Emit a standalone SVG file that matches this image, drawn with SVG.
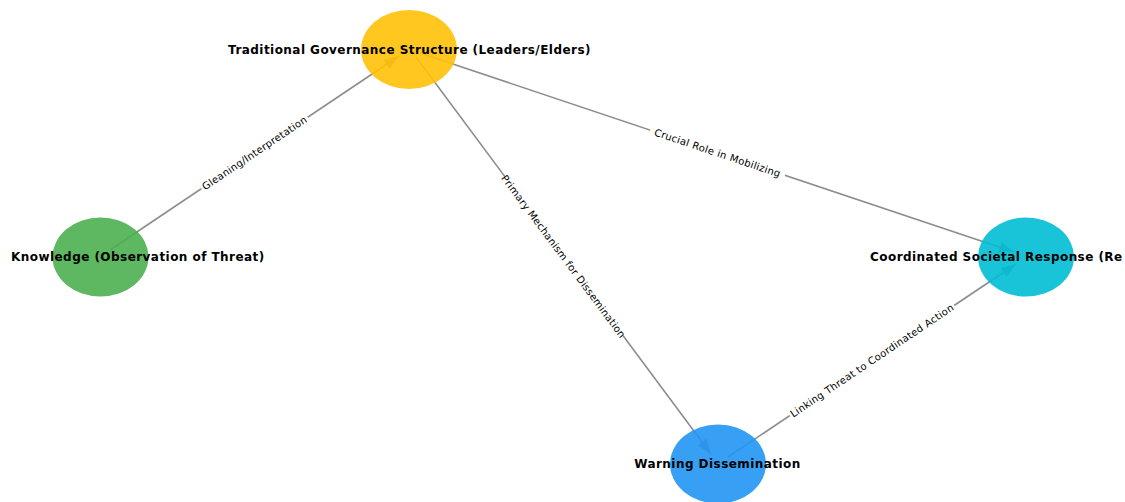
<svg xmlns="http://www.w3.org/2000/svg" width="1125" height="502" viewBox="0 0 1125 502">
<style>
.edge{stroke:#808080;stroke-opacity:0.9;stroke-width:1.6;fill:none;marker-end:url(#arr)}
.node ellipse{opacity:0.9}
.nl{font-family:"DejaVu Sans",sans-serif;font-weight:bold;font-size:12px;letter-spacing:0.45px;fill:#000}
.el{font-family:"DejaVu Sans",sans-serif;font-size:10px;letter-spacing:0.3px;fill:#000;text-anchor:middle;dominant-baseline:central}
.bg{fill:#fff}
</style>
<defs>
<marker id="arr" markerUnits="userSpaceOnUse" markerWidth="16" markerHeight="11" refX="15" refY="5.5" orient="auto">
<path d="M0,0 L15,5.5 L0,11 z" fill="#808080" fill-opacity="0.9"/>
</marker>
</defs>
<rect width="1125" height="502" fill="#fff"/>
<g id="connectors">
<path class="edge" d="M110,250 L399,56"/>
<path class="edge" d="M416,57 L711,454"/>
<path class="edge" d="M420,53 L1014,252"/>
<path class="edge" d="M728,457 L1016,264"/>
<g transform="translate(254.5,153) rotate(-33.9)"><rect class="bg" x="-64" y="-6" width="128" height="12" rx="3"/><text class="el">Gleaning/Interpretation</text></g>
<g transform="translate(563.5,256.5) rotate(53.3)"><rect class="bg" x="-99" y="-6" width="198" height="12" rx="3"/><text class="el">Primary Mechanism for Dissemination</text></g>
<g transform="translate(717.5,153) rotate(18.6)"><rect class="bg" x="-71" y="-6" width="142" height="12" rx="3"/><text class="el">Crucial Role in Mobilizing</text></g>
<g transform="translate(872,360.5) rotate(-33.9)"><rect class="bg" x="-99" y="-6" width="198" height="12" rx="3"/><text class="el">Linking Threat to Coordinated Action</text></g>
</g>
<g id="node-traditional" class="node"><ellipse cx="409" cy="49.5" rx="48" ry="39.5" fill="#FFC107"/><text class="nl" x="409.5" y="53.5" text-anchor="middle">Traditional Governance Structure (Leaders/Elders)</text></g>
<g id="node-knowledge" class="node"><ellipse cx="100.5" cy="257" rx="48" ry="39.5" fill="#4CAF50"/><text class="nl" x="11" y="261">Knowledge (Observation of Threat)</text></g>
<g id="node-coordinated" class="node"><ellipse cx="1026" cy="257" rx="48" ry="39.5" fill="#00BCD4"/><text class="nl" x="870" y="261">Coordinated Societal Response (Re</text></g>
<g id="node-warning" class="node"><ellipse cx="718" cy="464" rx="48" ry="39.5" fill="#2196F3"/><text class="nl" x="717.5" y="468" text-anchor="middle">Warning Dissemination</text></g>
</svg>
